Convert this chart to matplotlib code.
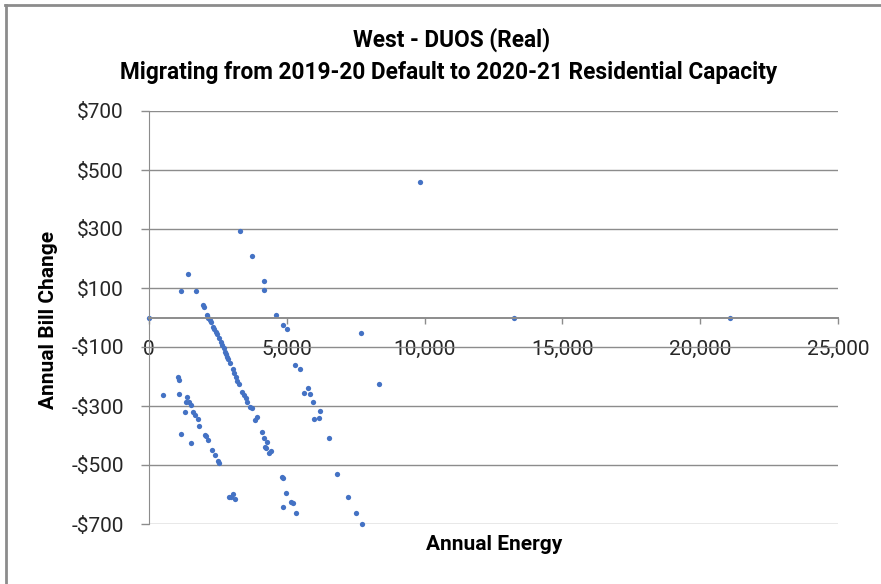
import matplotlib
matplotlib.use("Agg")
import matplotlib.pyplot as plt
from matplotlib.lines import Line2D
from matplotlib.ticker import FuncFormatter

plt.rcParams['font.family'] = ['Roboto', 'DejaVu Sans']

title_lines = ["West - DUOS (Real)",
               "Migrating from 2019-20 Default to 2020-21 Residential Capacity"]
x_label = "Annual Energy"
y_label = "Annual Bill Change"

annual_energy = [
    0, 497, 1042, 1100, 1100, 1173, 1173, 1296, 1380, 1354, 1463, 1416, 1525, 1536,
    1609, 1681, 1696, 1768, 1816, 1972, 2008, 2044, 2059, 2131, 2106, 2153, 2204,
    2251, 2277, 2313, 2371, 2396, 2422, 2469, 2494, 2542, 2553, 2603, 2662, 2712,
    2760, 2785, 2832, 2879, 2941, 2916, 2966, 3039, 3039, 3086, 3123, 3148, 3206,
    3268, 3304, 3388, 3449, 3511, 3569, 3656, 3729, 3751, 3910, 3838, 4114, 4176,
    4187, 4187, 4266, 4194, 4248, 4412, 4368, 4622, 4811, 4866, 4858, 4855, 4974,
    5011, 5167, 5236, 5290, 5338, 5494, 5610, 5766, 5846, 5966, 6002, 6162, 6198,
    6518, 6837, 7226, 7516, 7709, 7745, 8340, 9840, 13253, 21096,
]
bill_change = [
    0, -262, -201, -212, -258, 90, -396, -322, -269, -285, -285, 149, -296, -425,
    -319, -330, 90, -345, -367, 43, 37, -398, -403, -414, 10, 0, -7,
    -16, -448, -31, -39, -467, -48, -56, -486, -494, -71, -84, -93, -104,
    -116, -124, -135, -141, -155, -607, -609, -175, -599, -188, -615, -200, -215,
    -225, 294, -252, -263, -274, -286, -303, -308, 208, -336, -347, -388, -407,
    123, 93, -422, -440, -442, -452, -458, 8, -540, -545, -644, -24, -596,
    -40, -625, -630, -162, -663, -174, -255, -240, -259, -288, -344, -340, -318,
    -407, -532, -607, -663, -51, -699, -226, 460, 0, 0,
]

x_ticks = [0, 5000, 10000, 15000, 20000, 25000]
y_ticks = [-700, -500, -300, -100, 100, 300, 500, 700]

W, H = 881, 584
fig = plt.figure(figsize=(W / 100, H / 100), dpi=100)
fig.patch.set_facecolor('white')

# chart border (Excel chart area): top and left edges only
border_c = '#8c8c8c'
fig.add_artist(Line2D([5 / W, 1.0], [1 - 5 / H, 1 - 5 / H],
                      transform=fig.transFigure, color=border_c, linewidth=2))
fig.add_artist(Line2D([6 / W, 6 / W], [0.0, 1 - 5 / H],
                      transform=fig.transFigure, color=border_c, linewidth=2))

ax = fig.add_axes([149 / W, 60 / H, 689 / W, 413 / H])
ax.set_xlim(0, 25000)
ax.set_ylim(-700, 700)

grid_c = '#8c8c8c'
ax.set_yticks(y_ticks)
ax.set_xticks(x_ticks)
ax.yaxis.grid(True, color=grid_c, linewidth=1)
ax.set_axisbelow(True)
for s in ['top', 'right']:
    ax.spines[s].set_visible(False)
ax.spines['left'].set_color(grid_c)
ax.spines['bottom'].set_color(grid_c)
ax.spines['bottom'].set_linewidth(1.4)
ax.spines['bottom'].set_position(('data', 0))

ax.yaxis.set_major_formatter(FuncFormatter(
    lambda v, p: ("-$%d" % abs(v)) if v < 0 else ("$%d" % v)))
ax.xaxis.set_major_formatter(FuncFormatter(lambda v, p: "{:,.0f}".format(v)))

ax.tick_params(axis='y', direction='out', length=6, width=1, color=grid_c,
               pad=12, labelsize=15, labelcolor='#262626')
ax.tick_params(axis='x', direction='out', length=4, width=1, color=grid_c,
               pad=12, labelsize=15, labelcolor='#262626')

ax.plot(annual_energy, bill_change, linestyle='none', marker='o',
        markersize=3.8, color='#4472C4', markeredgewidth=0, clip_on=False)

fig.text(452 / W, 1 - 40 / H, title_lines[0], ha='center', va='center',
         fontsize=16.3, fontweight='bold', color='#000000')
fig.text(449 / W, 1 - 72 / H, title_lines[1], ha='center', va='center',
         fontsize=16.3, fontweight='bold', color='#000000')

fig.text(494 / W, 1 - 545 / H, x_label, ha='center', va='center',
         fontsize=15, fontweight='bold', color='#000000')
fig.text(49 / W, 1 - 320 / H, y_label, ha='center', va='center',
         rotation=90, fontsize=15, fontweight='bold', color='#000000')

fig.savefig('out.png', dpi=100, facecolor='white')
